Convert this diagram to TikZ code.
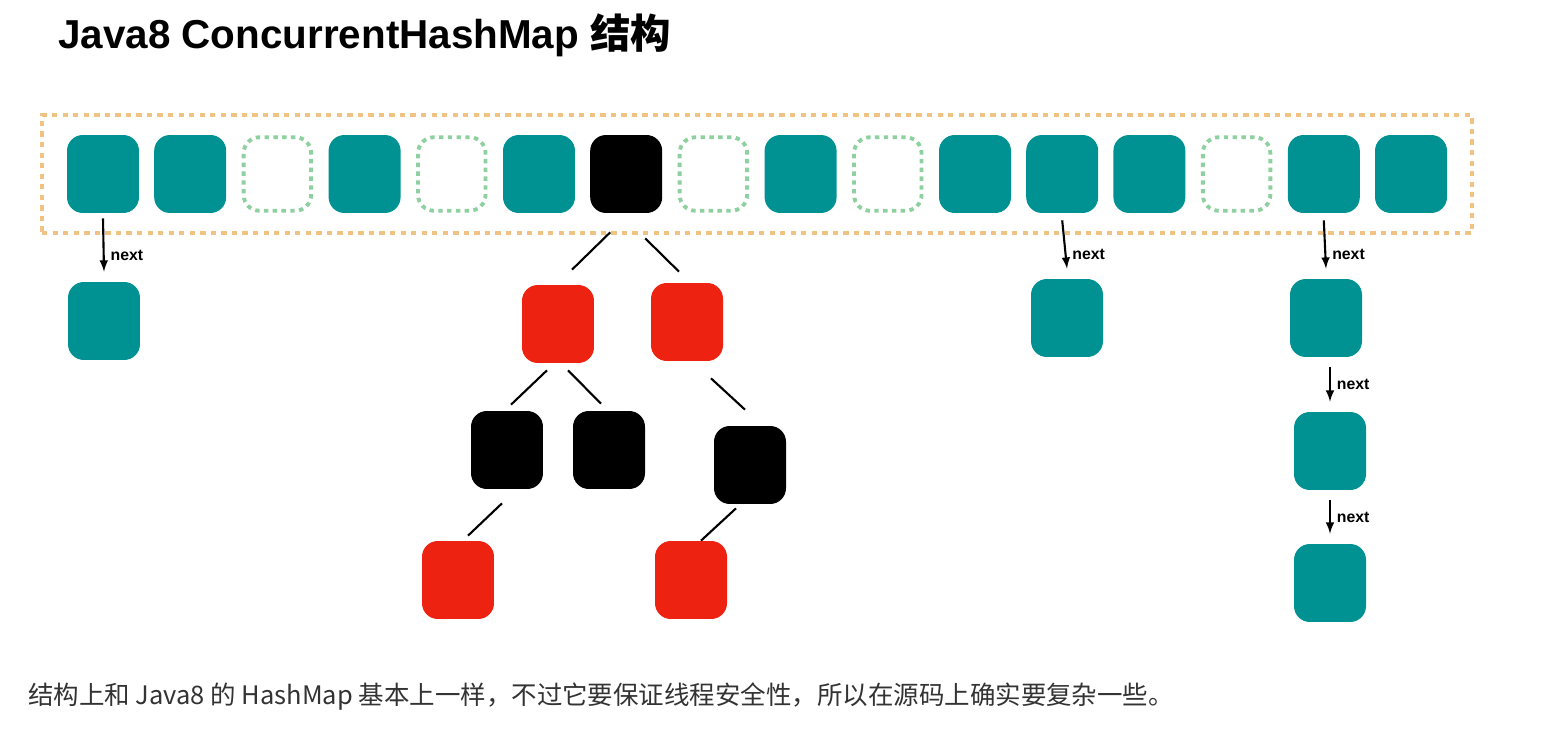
\documentclass[tikz,border=0pt]{standalone}
\usepackage{fontspec}
\setmainfont{Liberation Sans}
\newfontfamily\cjk{Noto Sans CJK SC}
\usetikzlibrary{positioning}
\definecolor{tealbox}{HTML}{009292}
\definecolor{redbox}{HTML}{EE2210}
\definecolor{greendot}{HTML}{8ED0A0}
\definecolor{orangedot}{HTML}{F0C384}
\tikzset{
  cell/.style={rounded corners=9pt, minimum width=1.44cm, minimum height=1.56cm, inner sep=0pt},
  tealcell/.style={cell, fill=tealbox},
  blackcell/.style={cell, fill=black},
  redcell/.style={cell, fill=redbox},
  emptycell/.style={cell, draw=greendot, line width=2.2pt, dash pattern=on 2.5pt off 2.5pt, minimum width=1.35cm, minimum height=1.47cm},
  nextarrow/.style={-latex, line width=1.2pt},
  treeline/.style={line width=1.2pt},
  nextlabel/.style={font=\bfseries\small, right=0pt}
}
\begin{document}
\begin{tikzpicture}[x=0.02cm, y=-0.02cm]
  \useasboundingbox[fill=white] (0,0) rectangle (1552,733);
  \node[anchor=west, font=\bfseries\fontsize{23}{26}\selectfont] (title) at (52,35) {Java8 ConcurrentHashMap {\cjk 结构}};

  % table
  \node[draw=orangedot, line width=2.5pt, dash pattern=on 3pt off 3pt, minimum width=28.6cm, minimum height=2.36cm] (table) at (757,174) {};
  \foreach \i/\kind in {0/tealcell,1/tealcell,2/emptycell,3/tealcell,4/emptycell,5/tealcell,6/blackcell,7/emptycell,8/tealcell,9/emptycell,10/tealcell,11/tealcell,12/tealcell,13/emptycell,14/tealcell,15/tealcell}
    \node[\kind] (b\i) at (103+87.2*\i,174) {};

  % list at bucket 0
  \node[tealcell] (l0) at (104,321) {};
  \draw[nextarrow] ([yshift=-0.1cm]b0.south) -- ([yshift=0.2cm]l0.north) node[nextlabel, pos=0.7] {next};

  % tree at bucket 6
  \node[redcell] (r1) at (558,324) {};
  \node[redcell] (r2) at (687,322) {};
  \node[blackcell] (k1) at (507,450) {};
  \node[blackcell] (k2) at (609,450) {};
  \node[blackcell] (k3) at (750,465) {};
  \node[redcell] (r3) at (458,580) {};
  \node[redcell] (r4) at (691,580) {};
  \draw[treeline] ([shift={(-16,19)}]b6.south) -- ([shift={(14,-15)}]r1.north);
  \draw[treeline] ([shift={(19,25)}]b6.south) -- ([shift={(-8,-11)}]r2.north);
  \draw[treeline] ([shift={(-11,7)}]r1.south) -- ([shift={(4,-6)}]k1.north);
  \draw[treeline] ([shift={(10,7)}]r1.south) -- ([shift={(-8,-7)}]k2.north);
  \draw[treeline] ([shift={(24,17)}]r2.south) -- ([shift={(-5,-16)}]k3.north);
  \draw[treeline] ([shift={(-5,14)}]k1.south) -- ([shift={(10,-5)}]r3.north);
  \draw[treeline] ([shift={(-14,4)}]k3.south) -- ([shift={(10,0)}]r4.north);

  % list at bucket 11
  \node[tealcell] (l1) at (1067,318) {};
  \draw[nextarrow] ([yshift=-0.14cm]b11.south) -- ([yshift=0.2cm]l1.north) node[nextlabel, pos=0.7] {next};

  % list at bucket 14
  \node[tealcell] (m1) at (1326,318) {};
  \node[tealcell] (m2) at (1330,451) {};
  \node[tealcell] (m3) at (1330,583) {};
  \draw[nextarrow] ([yshift=-0.14cm]b14.south) -- ([yshift=0.2cm]m1.north) node[nextlabel, pos=0.7] {next};
  \draw[nextarrow] ([shift={(4,10)}]m1.south) -- ([yshift=0.2cm]m2.north) node[nextlabel, pos=0.5] {next};
  \draw[nextarrow] ([yshift=-0.2cm]m2.south) -- ([yshift=0.2cm]m3.north) node[nextlabel, pos=0.5] {next};

  \node[anchor=west, text=black!80, font=\cjk\fontsize{14.5}{17}\selectfont] (caption) at (22,697) {结构上和 Java8 的 HashMap 基本上一样，不过它要保证线程安全性，所以在源码上确实要复杂一些。};
\end{tikzpicture}
\end{document}
